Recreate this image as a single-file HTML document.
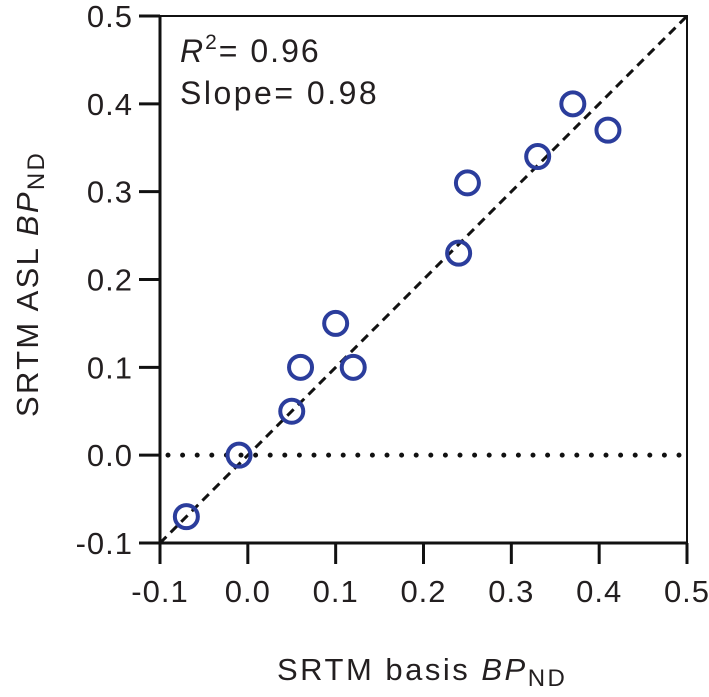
<!DOCTYPE html>
<html><head><meta charset="utf-8"><style>
html,body{margin:0;padding:0;background:#fff;}
svg{display:block;font-family:"Liberation Sans",Arial,sans-serif;}
</style></head><body>
<svg id="chart" width="709" height="697" viewBox="0 0 709 697">
<g id="plot"></g>
<text x="180" y="62" font-size="32" letter-spacing="2" fill="#231f20"><tspan font-style="italic">R</tspan><tspan dy="-13" font-size="21">2</tspan><tspan dy="13">= 0.96</tspan></text>
<text x="180" y="104" font-size="32" letter-spacing="2.5" fill="#231f20">Slope= 0.98</text>
<text x="277" y="680" font-size="31" letter-spacing="2.5" fill="#231f20">SRTM basis <tspan font-style="italic">BP</tspan><tspan font-size="24" dy="6">ND</tspan></text>
<text transform="translate(38,417) rotate(-90)" font-size="31" letter-spacing="2.3" fill="#231f20">SRTM ASL <tspan font-style="italic">BP</tspan><tspan font-size="24" dy="6">ND</tspan></text>
</svg>
<script>
const xVals=[-0.07,-0.01,0.05,0.06,0.10,0.12,0.24,0.25,0.33,0.37,0.41];
const yVals=[-0.07,0.00,0.05,0.10,0.15,0.10,0.23,0.31,0.34,0.40,0.37];
const xTicks=[-0.1,0.0,0.1,0.2,0.3,0.4,0.5];
const yTicks=[-0.1,0.0,0.1,0.2,0.3,0.4,0.5];
const xMin=-0.1,xMax=0.5,yMin=-0.1,yMax=0.5;
const L=160,R=687,T=16,B=543;
const sx=v=>L+(v-xMin)/(xMax-xMin)*(R-L);
const sy=v=>B-(v-yMin)/(yMax-yMin)*(B-T);
const NS="http://www.w3.org/2000/svg";
const g=document.getElementById('plot');
function mk(tag,attrs,parent){const e=document.createElementNS(NS,tag);for(const k in attrs)e.setAttribute(k,attrs[k]);(parent||g).appendChild(e);return e;}
let e=mk('line',{x1:sx(xMin)+8,y1:sy(0),x2:sx(xMax),y2:sy(0),stroke:'#111','stroke-width':5,'stroke-linecap':'round','stroke-dasharray':'0 14.6'});


e=mk('line',{x1:sx(xMin),y1:sy(yMin),x2:sx(xMax),y2:sy(yMax),stroke:'#111','stroke-width':3,'stroke-dasharray':'9 6'});


e=mk('rect',{x:L,y:T,width:R-L,height:B-T,fill:'none',stroke:'#111','stroke-width':2});


e=mk('path',{d:`M${L} ${T} V${B} H${R}`,fill:'none',stroke:'#111','stroke-width':3});


xTicks.forEach(t=>{
 let l=mk('line',{x1:sx(t),y1:B,x2:sx(t),y2:B+21,stroke:'#111','stroke-width':3});
 
 
 let tx=mk('text',{x:sx(t),y:602,'text-anchor':'middle','font-size':31,'letter-spacing':1,fill:'#231f20'});
 tx.textContent=t.toFixed(1);
 
 
});
yTicks.forEach(t=>{
 let l=mk('line',{x1:L-21,y1:sy(t),x2:L,y2:sy(t),stroke:'#111','stroke-width':3});
 
 
 let tx=mk('text',{x:133,y:sy(t)+11,'text-anchor':'end','font-size':31,'letter-spacing':1,fill:'#231f20'});
 tx.textContent=t.toFixed(1);
 
 
});
xVals.forEach((v,i)=>{
 let c=mk('circle',{cx:sx(v),cy:sy(yVals[i]),r:11.5,fill:'none',stroke:'#2b3d9c','stroke-width':4});
 
 
});
</script>
</body></html>
